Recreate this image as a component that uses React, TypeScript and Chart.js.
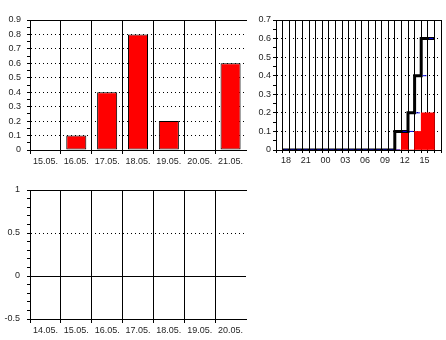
import { useEffect, useRef } from 'react';
import { Chart, registerables } from 'chart.js';

Chart.register(...registerables);

// Daily rainfall, last seven days
const weekDays = ['15.05.', '16.05.', '17.05.', '18.05.', '19.05.', '20.05.', '21.05.'];
const weekRain = [0, 0.1, 0.4, 0.8, 0.2, 0, 0.6];

// Last 24 hours: hourly rainfall and running total (18:00 … 16:00)
const hours = ['18', '19', '20', '21', '22', '23', '00', '01', '02', '03', '04', '05',
  '06', '07', '08', '09', '10', '11', '12', '13', '14', '15', '16'];
const hourRain = [0, 0, 0, 0, 0, 0, 0, 0, 0, 0, 0, 0, 0, 0, 0, 0, 0, 0, 0.1, 0, 0.1, 0.2, 0.2];
const hourTotal = [0, 0, 0, 0, 0, 0, 0, 0, 0, 0, 0, 0, 0, 0, 0, 0, 0, 0, 0.1, 0.1, 0.2, 0.4, 0.6];

// Previous week, no readings
const prevDays = ['14.05.', '15.05.', '16.05.', '17.05.', '18.05.', '19.05.', '20.05.'];
const prevValues: (number | null)[] = [null, null, null, null, null, null, null];

const FONT = { family: '"Liberation Sans", Arial, Helvetica, sans-serif', size: 9 };
const INK = '#000000';
const TEXT = '#1e1e1e';
const NONE = 'rgba(0,0,0,0)';
const RED = '#ff0000';
const BLUE = '#0000dd';
const DOT = [1, 3];

type GridKind = 'dot' | 'solid' | null;

const near = (a: number, b: number) => Math.abs(a - b) < 1e-6;
const isMultiple = (v: number, step: number) => near(v / step, Math.round(v / step));

function valueAxis(min: number, max: number, minor: number, major: number, width: number,
  pad: number, gridAt: (v: number) => GridKind) {
  return {
    type: 'linear', position: 'left', min, max,
    afterFit: (s: any) => { s.width = width; },
    ticks: {
      stepSize: minor, autoSkip: false, padding: pad, color: TEXT, font: FONT,
      callback: (v: any) => isMultiple(Number(v), major) ? String(Math.round(Number(v) * 100) / 100) : '',
    },
    grid: {
      tickLength: 3, tickWidth: 1, tickColor: INK, lineWidth: 1,
      color: (c: any) => (c.tick && gridAt(c.tick.value)) ? INK : NONE,
    },
    border: {
      color: INK, width: 1,
      dash: (c: any) => (c.tick && gridAt(c.tick.value) === 'dot') ? DOT : [],
    },
  };
}

function dayAxis(labels: string[], height: number) {
  // grid lines sit on the day boundaries; the closing line on the right is left out
  const inside = (c: any) => (c.tick ? INK : NONE);
  return {
    type: 'category', labels, offset: true, position: 'bottom',
    afterFit: (s: any) => { s.height = height; },
    ticks: { color: TEXT, font: FONT, padding: 2, autoSkip: false, maxRotation: 0 },
    grid: {
      offset: true, lineWidth: 1, tickLength: 4,
      color: inside, tickColor: inside,
    },
    border: { color: INK, width: 1 },
  };
}

// a bare axis along the top edge of the plot, used only for its border line
const topEdge = {
  type: 'linear', position: 'top',
  afterFit: (s: any) => { s.height = 0; },
  ticks: { display: false },
  grid: { display: false, drawTicks: false },
  border: { display: true, color: INK, width: 1 },
};

const baseOptions = (padding: any) => ({
  responsive: false,
  animation: false,
  devicePixelRatio: 1,
  layout: { padding },
  plugins: { legend: { display: false }, tooltip: { enabled: false } },
});

function weekConfig(): any {
  return {
    type: 'bar',
    data: {
      labels: weekDays,
      datasets: [{
        data: weekRain, backgroundColor: RED, borderColor: INK, borderWidth: 1,
        borderSkipped: false, barPercentage: 0.65, categoryPercentage: 1,
      }],
    },
    options: {
      ...baseOptions({ top: 20, right: 4, left: 0, bottom: 0 }),
      scales: {
        x: dayAxis(weekDays, 20),
        x2: topEdge,
        y: valueAxis(0, 0.9, 0.05, 0.1, 30, 6,
          (v) => (v > 0.001 && v < 0.899 && isMultiple(v, 0.1) ? 'dot' : null)),
      },
    },
  };
}

const H_MIN = -1.5;
const H_MAX = 23.5;

function dayHoursConfig(): any {
  const bars = hourRain.map((v, i) => ({ x: i, y: v }));
  const steps = hourTotal.map((v, i) => ({ x: i - 0.5, y: v }));
  steps.push({ x: hourTotal.length - 0.5, y: hourTotal[hourTotal.length - 1] });
  const marks = hourTotal.map((v, i) => ({ x: i, y: v }));
  return {
    type: 'bar',
    data: {
      datasets: [
        {
          type: 'bar', data: bars, backgroundColor: RED, borderWidth: 0,
          barThickness: 'flex', barPercentage: 1, categoryPercentage: 1, order: 3,
        },
        {
          type: 'line', data: steps, stepped: 'after', borderColor: INK, borderWidth: 3,
          pointRadius: 0, fill: false, order: 2,
        },
        {
          type: 'line', data: marks, showLine: false, pointStyle: 'line', pointRadius: 2,
          pointBorderWidth: 1, pointBorderColor: BLUE, borderColor: BLUE, order: 1,
        },
      ],
    },
    options: {
      ...baseOptions({ top: 20, right: 5, left: 0, bottom: 0 }),
      scales: {
        x: {
          type: 'linear', position: 'bottom', min: H_MIN, max: H_MAX, offset: false,
          afterFit: (s: any) => { s.height = 20; },
          afterBuildTicks: (s: any) => {
            const t: { value: number }[] = [];
            for (let v = H_MIN; v <= H_MAX + 1e-9; v += 1) t.push({ value: v });
            hours.forEach((_, i) => { if (i % 3 === 0) t.push({ value: i }); });
            t.sort((a, b) => a.value - b.value);
            s.ticks = t;
          },
          ticks: {
            color: TEXT, font: FONT, padding: 2, autoSkip: false, maxRotation: 0,
            callback: (v: any) => (Number.isInteger(Number(v)) ? hours[Number(v)] ?? '' : ''),
          },
          grid: {
            offset: false, lineWidth: 1, tickLength: 3,
            color: (c: any) => (c.tick && !Number.isInteger(c.tick.value) ? INK : NONE),
            tickColor: (c: any) => (c.tick && !Number.isInteger(c.tick.value) ? INK : NONE),
          },
          border: { color: INK, width: 1 },
        },
        x2: topEdge,
        y: valueAxis(0, 0.7, 0.05, 0.1, 26, 2,
          (v) => (v > 0.001 && v < 0.699 && isMultiple(v, 0.1) ? 'dot' : null)),
      },
    },
  };
}

function prevWeekConfig(): any {
  return {
    type: 'bar',
    data: {
      labels: prevDays,
      datasets: [{ data: prevValues, backgroundColor: RED, borderColor: INK, borderWidth: 1 }],
    },
    options: {
      ...baseOptions({ top: 20, right: 4, left: 0, bottom: 0 }),
      scales: {
        x: dayAxis(prevDays, 21),
        x2: topEdge,
        y: valueAxis(-0.5, 1, 0.1, 0.5, 30, 7, (v) => {
          if (near(v, 0)) return 'solid';
          if (near(v, 0.5)) return 'dot';
          return null;
        }),
      },
    },
  };
}

function ChartCanvas({ make, left, top, width, height }:
  { make: () => any; left: number; top: number; width: number; height: number }) {
  const ref = useRef<HTMLCanvasElement>(null);
  useEffect(() => {
    const chart = new Chart(ref.current!, make());
    return () => chart.destroy();
  }, [make]);
  return (
    <canvas
      ref={ref}
      width={width}
      height={height}
      style={{ position: 'absolute', left, top, width, height, display: 'block' }}
    />
  );
}

export default function App() {
  return (
    <div style={{ position: 'absolute', left: 0, top: 0, width: 446, height: 340, background: '#fff' }}>
      <ChartCanvas make={weekConfig} left={0} top={0} width={250} height={170} />
      <ChartCanvas make={dayHoursConfig} left={250} top={0} width={196} height={170} />
      <ChartCanvas make={prevWeekConfig} left={0} top={170} width={250} height={170} />
    </div>
  );
}
